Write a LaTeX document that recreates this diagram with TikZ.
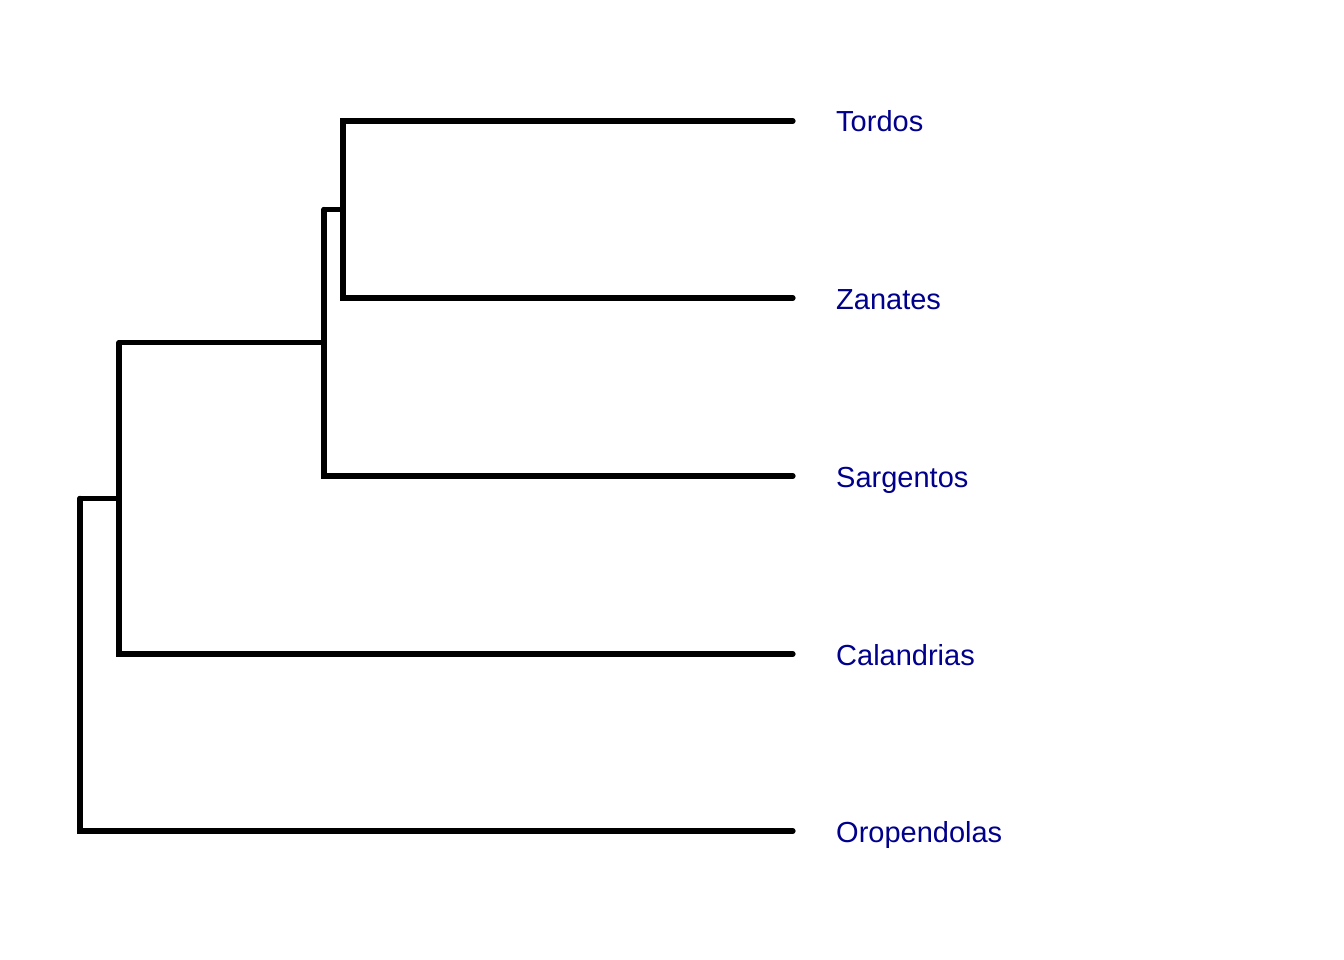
\documentclass[tikz,border=0pt]{standalone}
\usepackage{fontspec}
\setmainfont{Liberation Sans}
\definecolor{labelblue}{HTML}{00008B}
\begin{document}
\begin{tikzpicture}[x=1pt,y=-1pt,
  branch/.style={line width=5.2pt,line cap=round,black},
  tiplabel/.style={anchor=base west,inner sep=0pt,text=labelblue,font=\fontsize{29}{33}\selectfont}]
\useasboundingbox (0,0) rectangle (1344,960);
% tips
\coordinate (t1) at (793,121);
\coordinate (t2) at (793,298);
\coordinate (t3) at (793,476);
\coordinate (t4) at (793,654);
\coordinate (t5) at (793,831);
% internal nodes
\coordinate (n4) at (343,209.5);
\coordinate (n3) at (324,342.75);
\coordinate (n2) at (119,498.4);
\coordinate (n1) at (80,664.7);
% branches
\draw[branch] (t1) -- (t1 -| n4) -- (t2 -| n4) -- (t2);
\draw[branch] (n4) -- (n4 -| n3);
\draw[branch] (n4 -| n3) -- (t3 -| n3) -- (t3);
\draw[branch] (n3) -- (n3 -| n2);
\draw[branch] (n3 -| n2) -- (t4 -| n2) -- (t4);
\draw[branch] (n2) -- (n2 -| n1);
\draw[branch] (n2 -| n1) -- (t5 -| n1) -- (t5);
% labels
\node[tiplabel] (l1) at (836,132) {Tordos};
\node[tiplabel] (l2) at (836,309) {Zanates};
\node[tiplabel] (l3) at (836,487) {Sargentos};
\node[tiplabel] (l4) at (836,665) {Calandrias};
\node[tiplabel] (l5) at (836,842) {Oropendolas};
\end{tikzpicture}
\end{document}
